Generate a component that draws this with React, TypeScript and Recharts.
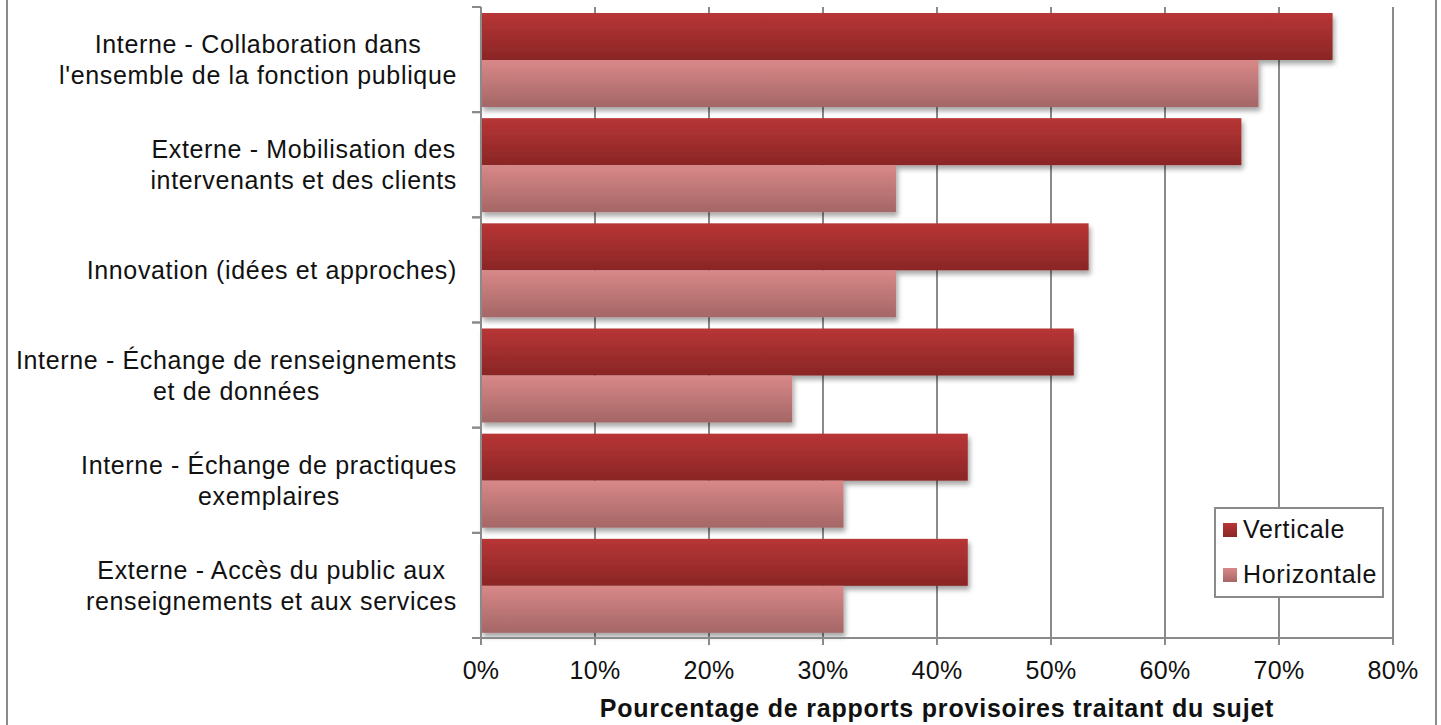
import React from 'react';
import {
  BarChart,
  Bar,
  XAxis,
  YAxis,
  CartesianGrid,
  Legend,
  Label,
} from 'recharts';

const categories = [
  'collab',
  'mobilisation',
  'innovation',
  'echangeRens',
  'echangePrat',
  'acces',
];

const categoryLines: Record<string, string[]> = {
  collab: ['Interne - Collaboration dans', "l'ensemble de la fonction publique"],
  mobilisation: ['Externe - Mobilisation des', 'intervenants et des clients'],
  innovation: ['Innovation (idées et approches)'],
  echangeRens: ['Interne - Échange de renseignements', 'et de données'],
  echangePrat: ['Interne - Échange de practiques', 'exemplaires'],
  acces: ['Externe - Accès du public aux', 'renseignements et aux services'],
};

const verticale = [0.747, 0.667, 0.533, 0.52, 0.427, 0.427];
const horizontale = [0.682, 0.364, 0.364, 0.273, 0.318, 0.318];

const xTicks = [0, 0.1, 0.2, 0.3, 0.4, 0.5, 0.6, 0.7, 0.8];
const axisTitle = 'Pourcentage de rapports provisoires traitant du sujet';

const FONT = '"Liberation Sans", Arial, sans-serif';
const LABEL_SIZE = 25;
const LABEL_SPACING = 0.65;
const GRAY = '#8a8a8a';

const data = categories.map((name, i) => ({
  name,
  verticale: verticale[i],
  horizontale: horizontale[i],
}));

let measureCtx: CanvasRenderingContext2D | null = null;
function textWidth(s: string) {
  if (!measureCtx) {
    const c = document.createElement('canvas');
    measureCtx = c.getContext('2d');
  }
  if (!measureCtx) return s.length * (LABEL_SIZE * 0.5 + LABEL_SPACING);
  measureCtx.font = `${LABEL_SIZE}px "Liberation Sans"`;
  return measureCtx.measureText(s).width + s.length * LABEL_SPACING;
}

const CategoryTick = (props: any) => {
  const { x, y, payload, height } = props;
  const lines = categoryLines[payload.value] ?? [String(payload.value)];
  const axisX = x + 24;
  const half = height / categories.length / 2;
  const maxW = Math.max(...lines.map(textWidth));
  const cx = x - maxW / 2;
  const lineH = 31;
  const startY = y - ((lines.length - 1) * lineH) / 2;
  return (
    <g>
      <line x1={axisX - 9} x2={axisX} y1={y - half} y2={y - half} stroke={GRAY} strokeWidth={2} />
      <line x1={axisX - 9} x2={axisX} y1={y + half} y2={y + half} stroke={GRAY} strokeWidth={2} />
      <text
        textAnchor="middle"
        fontFamily={FONT}
        fontSize={LABEL_SIZE}
        letterSpacing={LABEL_SPACING}
        fill="#111"
      >
        {lines.map((l, i) => (
          <tspan key={i} x={cx} y={startY + i * lineH} dy="0.36em">
            {l}
          </tspan>
        ))}
      </text>
    </g>
  );
};

const ShadowBar = (props: any) => {
  const { x, y, width, height, fill } = props;
  if (!width || width <= 0) return null;
  return <rect x={x} y={y} width={width} height={height} fill={fill} filter="url(#barShadow)" />;
};

const LegendBox = () => (
  <div
    style={{
      position: 'relative',
      width: 170,
      height: 91,
      boxSizing: 'border-box',
      border: `2px solid ${GRAY}`,
      background: '#fff',
      fontFamily: FONT,
      fontSize: 25,
      letterSpacing: 0.7,
      color: '#111',
    }}
  >
    {[
      { label: 'Verticale', bg: 'linear-gradient(#b83535, #8a2626)', top: 14 },
      { label: 'Horizontale', bg: 'linear-gradient(#d98888, #a66666)', top: 59 },
    ].map((it) => (
      <div key={it.label}>
        <div style={{ position: 'absolute', left: 7, top: it.top, width: 14, height: 14, background: it.bg }} />
        <div style={{ position: 'absolute', left: 27, top: it.top - 8, lineHeight: '28px', whiteSpace: 'nowrap' }}>
          {it.label}
        </div>
      </div>
    ))}
  </div>
);

export default function App() {
  return (
    <div style={{ position: 'absolute', left: 0, top: 0, width: 1441, height: 725, background: '#fff', overflow: 'hidden' }}>
      <div
        style={{
          position: 'absolute',
          left: 6,
          top: -6,
          width: 1431,
          height: 740,
          boxSizing: 'border-box',
          border: `2px solid ${GRAY}`,
        }}
      />
      <div style={{ position: 'absolute', left: 0, top: 0 }}>
        <BarChart
          width={1441}
          height={725}
          data={data}
          layout="vertical"
          margin={{ top: 7, right: 48, bottom: 0, left: 0 }}
          barCategoryGap={6}
          barGap={0}
        >
          <defs>
            <linearGradient id="gradVert" x1="0" y1="0" x2="0" y2="1">
              <stop offset="0%" stopColor="#b83535" />
              <stop offset="100%" stopColor="#8a2626" />
            </linearGradient>
            <linearGradient id="gradHoriz" x1="0" y1="0" x2="0" y2="1">
              <stop offset="0%" stopColor="#d98888" />
              <stop offset="100%" stopColor="#a46666" />
            </linearGradient>
            <filter id="barShadow" x="-5%" y="-20%" width="115%" height="170%">
              <feDropShadow dx="2" dy="4" stdDeviation="2.5" floodColor="#000" floodOpacity="0.35" />
            </filter>
          </defs>
          <CartesianGrid horizontal={false} stroke={GRAY} strokeWidth={2} />
          <XAxis
            type="number"
            domain={[0, 0.8]}
            ticks={xTicks}
            tickFormatter={(v: number) => `${Math.round(v * 100)}%`}
            height={87}
            tickSize={7}
            tickMargin={16}
            axisLine={{ stroke: GRAY, strokeWidth: 2 }}
            tickLine={{ stroke: GRAY, strokeWidth: 2 }}
            tick={{ fill: '#111', fontSize: LABEL_SIZE, fontFamily: FONT, letterSpacing: 0.3 }}
            interval={0}
          >
            <Label
              content={({ viewBox }: any) => (
                <text
                  x={viewBox.x + viewBox.width / 2}
                  y={viewBox.y + 79}
                  textAnchor="middle"
                  fontFamily={FONT}
                  fontSize={25}
                  letterSpacing={0.8}
                  fontWeight="bold"
                  fill="#111"
                >
                  {axisTitle}
                </text>
              )}
            />
          </XAxis>
          <YAxis
            type="category"
            dataKey="name"
            width={481}
            tickSize={8}
            tickMargin={16}
            tickLine={false}
            axisLine={{ stroke: GRAY, strokeWidth: 2 }}
            tick={<CategoryTick />}
            interval={0}
          />
          <Legend
            layout="vertical"
            align="center"
            verticalAlign="middle"
            wrapperStyle={{ position: 'absolute', left: 1214, top: 507, width: 170, height: 91 }}
            content={() => <LegendBox />}
          />
          <Bar dataKey="verticale" name="Verticale" fill="url(#gradVert)" shape={<ShadowBar />} isAnimationActive={false} />
          <Bar dataKey="horizontale" name="Horizontale" fill="url(#gradHoriz)" shape={<ShadowBar />} isAnimationActive={false} />
        </BarChart>
      </div>
    </div>
  );
}
